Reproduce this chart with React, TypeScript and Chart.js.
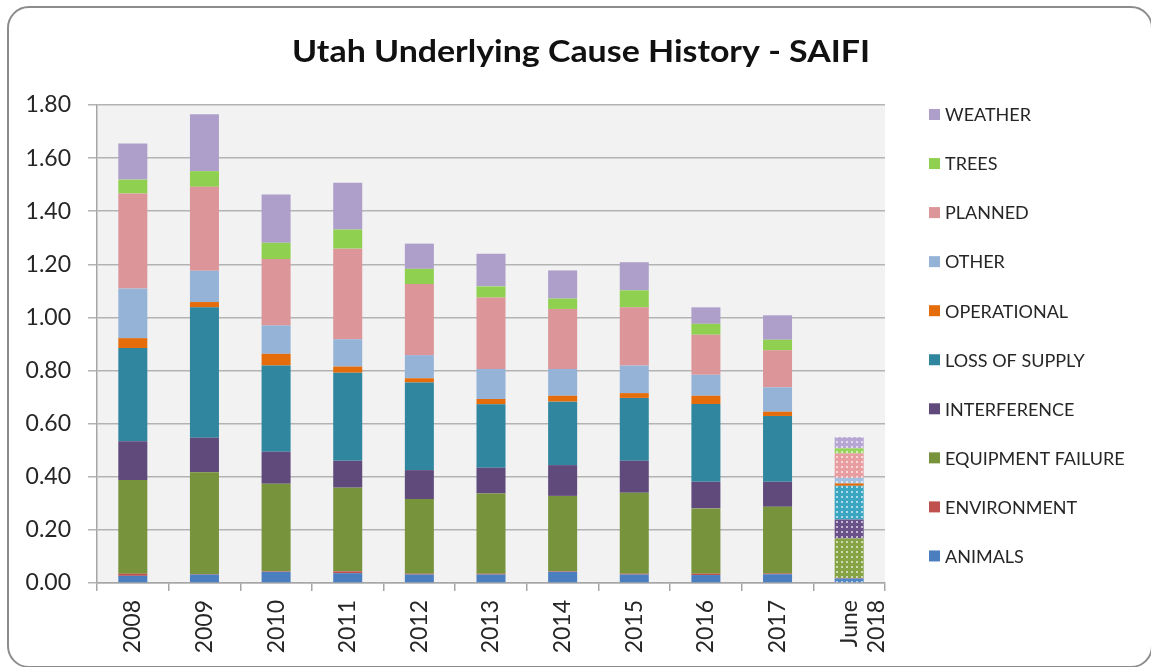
import React, { useEffect, useRef } from "react";
import { Chart, registerables } from "chart.js";

Chart.register(...registerables);

const TITLE = "Utah Underlying Cause History - SAIFI";
const categories: (string | string[])[] = ["2008", "2009", "2010", "2011", "2012", "2013", "2014", "2015", "2016", "2017", ["June", "2018"]];
const yTicks = [0, 0.2, 0.4, 0.6, 0.8, 1.0, 1.2, 1.4, 1.6, 1.8];

const seriesNames = ["ANIMALS", "ENVIRONMENT", "EQUIPMENT FAILURE", "INTERFERENCE", "LOSS OF SUPPLY", "OPERATIONAL", "OTHER", "PLANNED", "TREES", "WEATHER"];
const animals = [0.027, 0.032, 0.042, 0.037, 0.032, 0.032, 0.042, 0.032, 0.030, 0.033, 0.017];
const environment = [0.008, 0.002, 0.002, 0.007, 0.003, 0.003, 0.002, 0.003, 0.005, 0.003, 0.002];
const equipmentFailure = [0.353, 0.383, 0.330, 0.315, 0.281, 0.302, 0.284, 0.305, 0.246, 0.251, 0.149];
const interference = [0.146, 0.130, 0.120, 0.101, 0.109, 0.097, 0.116, 0.120, 0.100, 0.094, 0.071];
const lossOfSupply = [0.351, 0.491, 0.325, 0.332, 0.330, 0.239, 0.239, 0.237, 0.293, 0.248, 0.127];
const operational = [0.037, 0.020, 0.044, 0.023, 0.016, 0.020, 0.022, 0.018, 0.031, 0.016, 0.009];
const other = [0.187, 0.118, 0.107, 0.103, 0.087, 0.113, 0.101, 0.104, 0.079, 0.092, 0.021];
const planned = [0.358, 0.316, 0.250, 0.341, 0.268, 0.269, 0.226, 0.219, 0.151, 0.139, 0.092];
const trees = [0.052, 0.059, 0.061, 0.072, 0.057, 0.042, 0.039, 0.064, 0.041, 0.040, 0.019];
const weather = [0.136, 0.214, 0.182, 0.176, 0.095, 0.123, 0.106, 0.106, 0.062, 0.092, 0.042];
const seriesValues = [animals, environment, equipmentFailure, interference, lossOfSupply, operational, other, planned, trees, weather];

const colors = ["#4a7ebf", "#c0504d", "#77933c", "#604a7b", "#2f869e", "#e46c0a", "#95b3d7", "#dc9598", "#8fd050", "#ae9fca"];
const partialColors = ["#4f86c6", "#c0504d", "#86a443", "#6a5189", "#3aa6c2", "#e46c0a", "#a3bfe0", "#e89da1", "#97d45c", "#b6a6d3"];

const FONT = "Lato, 'Open Sans', sans-serif";

function makePattern(base: string): CanvasPattern | string {
  const c = document.createElement("canvas");
  c.width = 5;
  c.height = 5;
  const g = c.getContext("2d");
  if (!g) return base;
  g.fillStyle = base;
  g.fillRect(0, 0, 5, 5);
  g.fillStyle = "rgba(255,255,255,0.6)";
  g.fillRect(1, 1, 2, 2);
  const p = g.createPattern(c, "repeat");
  return p || base;
}

const bgPlugin = {
  id: "plotBg",
  beforeDraw(chart: any) {
    const { ctx, chartArea } = chart;
    ctx.save();
    ctx.fillStyle = "#f2f2f2";
    ctx.fillRect(chartArea.left, chartArea.top, chartArea.right - chartArea.left, chartArea.bottom - chartArea.top);
    ctx.restore();
  },
};

const titleLegendPlugin = {
  id: "titleLegend",
  afterDraw(chart: any) {
    const { ctx } = chart;
    ctx.save();
    ctx.fillStyle = "#111";
    ctx.font = `bold 30px ${FONT}`;
    ctx.textAlign = "center";
    ctx.textBaseline = "middle";
    const w = ctx.measureText(TITLE).width;
    const sx = w > 0 ? 578 / w : 1;
    ctx.save();
    ctx.translate(581, 52);
    ctx.scale(sx, 1);
    ctx.fillText(TITLE, 0, 0);
    ctx.restore();

    const n = seriesNames.length;
    ctx.font = `18px ${FONT}`;
    ctx.textAlign = "left";
    for (let k = 0; k < n; k++) {
      const i = n - 1 - k;
      const cy = 114.5 + k * 49.05;
      ctx.fillStyle = colors[i];
      ctx.fillRect(929, cy - 5.5, 11, 11);
      ctx.fillStyle = "#262626";
      ctx.fillText(seriesNames[i], 945, cy + 1);
    }
    ctx.restore();
  },
};

export default function App() {
  const ref = useRef<HTMLCanvasElement | null>(null);
  useEffect(() => {
    if (!ref.current) return;
    const datasets = seriesNames.map((name, i) => ({
      label: name,
      data: seriesValues[i],
      backgroundColor: seriesValues[i].map((_, j) => (j === categories.length - 1 ? makePattern(partialColors[i]) : colors[i])),
      borderWidth: 0,
      barPercentage: 0.405,
      categoryPercentage: 1,
    }));
    const chart = new Chart(ref.current, {
      type: "bar",
      data: { labels: categories as any, datasets: datasets as any },
      options: {
        animation: false,
        responsive: false,
        layout: { padding: { left: 0, right: 266, top: 105, bottom: 0 } },
        plugins: { legend: { display: false }, title: { display: false }, tooltip: { enabled: false } },
        scales: {
          x: {
            stacked: true,
            grid: { display: true, offset: true, drawOnChartArea: false, drawTicks: true, tickLength: 8, color: "#a6a6a6", lineWidth: 1.5 },
            border: { display: true, color: "#a6a6a6", width: 1.5 },
            ticks: { minRotation: 90, maxRotation: 90, padding: 9, color: "#262626", font: { family: FONT, size: 23 } },
            afterFit: (s: any) => { s.height = 84; },
          },
          y: {
            stacked: true,
            min: 0,
            max: 1.8,
            afterBuildTicks: (s: any) => { s.ticks = yTicks.map((v) => ({ value: v })); },
            grid: { color: "#b3b3b3", lineWidth: 1.5, tickLength: 9, drawTicks: true },
            border: { display: true, color: "#a6a6a6", width: 1.5 },
            ticks: { padding: 17, color: "#262626", font: { family: FONT, size: 23 }, callback: (v: any) => Number(v).toFixed(2) },
            afterFit: (s: any) => { s.width = 97; },
          },
        },
      },
      plugins: [bgPlugin, titleLegendPlugin],
    });
    return () => chart.destroy();
  }, []);

  return (
    <div style={{ position: "fixed", left: 0, top: 0, width: 1151, height: 667, background: "#fff", overflow: "hidden" }}>
      <canvas ref={ref} width={1151} height={667} style={{ position: "absolute", left: 0, top: 0, width: 1151, height: 667 }} />
      <div style={{ position: "absolute", left: 7, top: 6, width: 1146, height: 662, boxSizing: "border-box", border: "2px solid #8c8c8c", borderRadius: 22, pointerEvents: "none" }} />
    </div>
  );
}
